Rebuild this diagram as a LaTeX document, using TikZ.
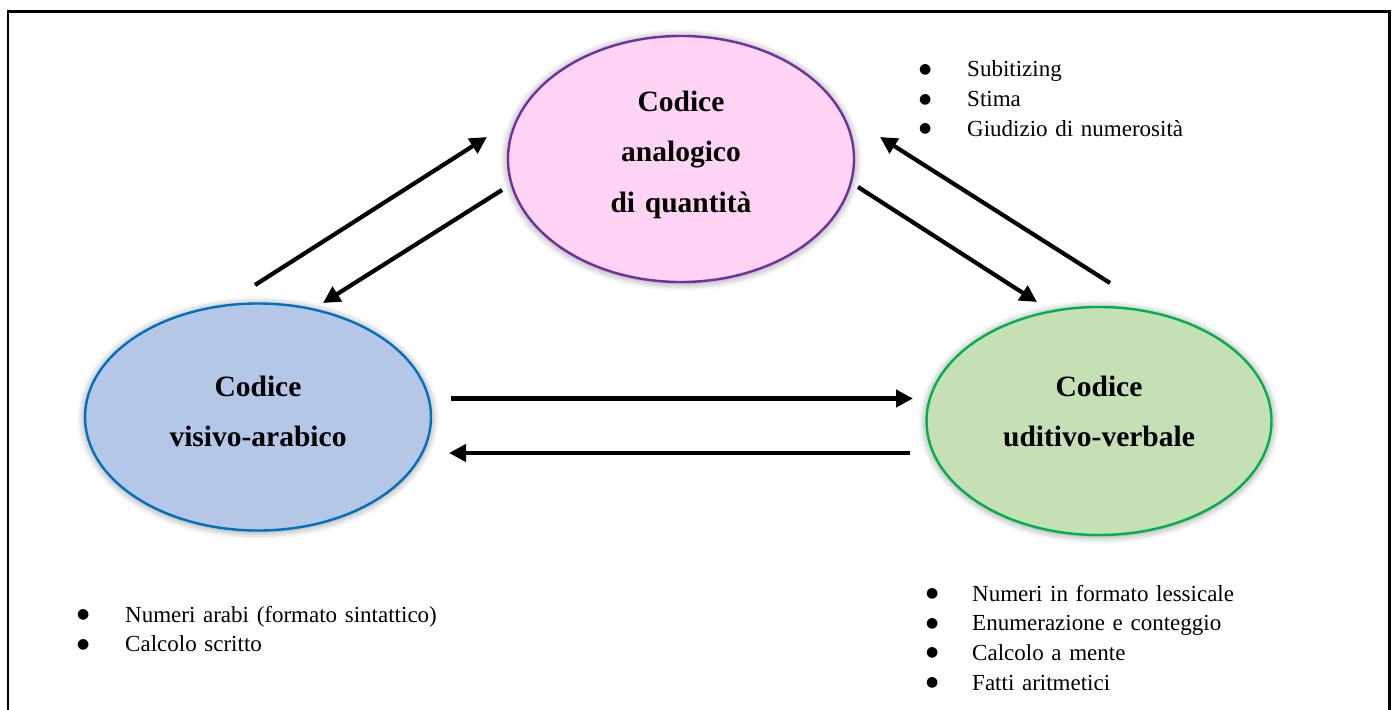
\documentclass[tikz,border=0pt]{standalone}
\usepackage{fontspec}
\setmainfont{Liberation Serif}
\newfontfamily\symfont{DejaVu Sans}
\usetikzlibrary{shapes.geometric,arrows.meta,shadows.blur}

\definecolor{pinkfill}{HTML}{FFD3F4}
\definecolor{purpleline}{HTML}{7030A0}
\definecolor{bluefill}{HTML}{B4C7E7}
\definecolor{blueline}{HTML}{0070C0}
\definecolor{greenfill}{HTML}{C5E0B4}
\definecolor{greenline}{HTML}{00B050}

% list bullet: a round dot in a box of fixed width
\newcommand\bul[1][48pt]{\makebox[#1][l]{\raisebox{3.5pt}{\symfont\fontsize{14}{14}\selectfont ●}}}

\tikzset{
  code/.style={ellipse, line width=2.4pt, inner sep=0pt,
    blur shadow={shadow xshift=0pt, shadow yshift=-1pt,
      shadow blur radius=8pt, shadow opacity=50}},
  codetext/.style={anchor=base, inner sep=0pt, text width=330pt, align=center,
    font=\fontsize{29.5}{50.5}\selectfont\bfseries},
  blist/.style={anchor=base west, inner sep=0pt, text width=420pt, align=left,
    font=\fontsize{23}{29.7}\selectfont},
  arr/.style={line width=4.2pt, -{Triangle[length=17pt,width=17pt]}},
}

\begin{document}
\begin{tikzpicture}[x=1pt,y=-1pt]
\useasboundingbox (0,0) rectangle (1399,709);

% open frame
\draw[line width=2.6pt] (7.8,712) -- (7.8,11.8) -- (1389.5,11.8) -- (1389.5,712);

% the three codes
\node[code, draw=purpleline, fill=pinkfill, minimum width=346pt, minimum height=246pt] (A) at (681,159) {};
\node[code, draw=blueline, fill=bluefill, minimum width=346pt, minimum height=227pt] (V) at (258,417) {};
\node[code, draw=greenline, fill=greenfill, minimum width=345pt, minimum height=228pt] (U) at (1099,421) {};

\node[codetext] (Atext) at (681,111) {Codice\\analogico\\di quantità};
\node[codetext] (Vtext) at (258,396) {Codice\\visivo-arabico};
\node[codetext] (Utext) at (1099,396) {Codice\\uditivo-verbale};

% arrow ends
\coordinate (va1) at (255,285);   \coordinate (va2) at (487,137);
\coordinate (av1) at (502,190);   \coordinate (av2) at (323,303);
\coordinate (au1) at (858,187);   \coordinate (au2) at (1037,302);
\coordinate (ua1) at (1110,283);  \coordinate (ua2) at (880,137);
\coordinate (vu1) at (451,398.5); \coordinate (vu2) at (913,398.5);
\coordinate (uv1) at (910,453);   \coordinate (uv2) at (449,453);

\draw[arr] (va1) -- (va2);
\draw[arr] (av1) -- (av2);
\draw[arr] (au1) -- (au2);
\draw[arr] (ua1) -- (ua2);
\draw[arr] (vu1) -- (vu2);
\draw[arr] (uv1) -- (uv2);

% lists
\node[blist] (Alist) at (919,77) {\bul Subitizing\\\bul Stima\\\bul Giudizio di numerosità};
\node[blist] (Vlist) at (77,622) {\bul Numeri arabi (formato sintattico)\\\bul Calcolo scritto};
\node[blist] (Ulist) at (926,601) {\bul[46pt]Numeri in formato lessicale\\\bul[46pt]Enumerazione e conteggio\\\bul[46pt]Calcolo a mente\\\bul[46pt]Fatti aritmetici};
\end{tikzpicture}
\end{document}
